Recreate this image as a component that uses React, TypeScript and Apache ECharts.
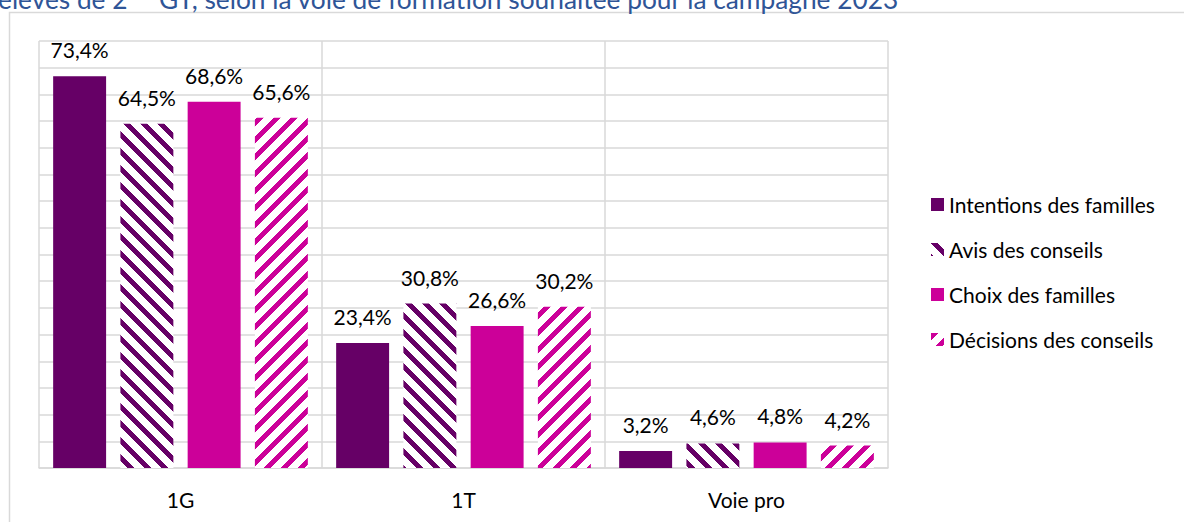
import React, { useEffect, useRef } from "react";
import * as echarts from "echarts";

const categories = ["1G", "1T", "Voie pro"];
const seriesNames = [
  "Intentions des familles",
  "Avis des conseils",
  "Choix des familles",
  "Décisions des conseils",
];
const intentionsFamilles = [73.4, 23.4, 3.2];
const avisConseils = [64.5, 30.8, 4.6];
const choixFamilles = [68.6, 26.6, 4.8];
const decisionsConseils = [65.6, 30.2, 4.2];
const yMin = 0;
const yMax = 80;
const yInterval = 5;

const titleText =
  "élèves de 2{sup|nde} GT, selon la voie de formation souhaitée pour la campagne 2023";

const FONT = "Lato, 'Open Sans', sans-serif";
const DARK = "#660066";
const MAGENTA = "#CC0099";
const GRID = "#d9d9d9";

function makeStripe(color: string, dir: "down" | "up") {
  const size = 17;
  const c = document.createElement("canvas");
  c.width = size;
  c.height = size;
  const ctx = c.getContext("2d")!;
  ctx.fillStyle = "#ffffff";
  ctx.fillRect(0, 0, size, size);
  ctx.fillStyle = color;
  for (let y = 0; y < size; y++) {
    for (let x = 0; x < size; x++) {
      const k = dir === "down" ? x - y : x + y;
      if (((k % size) + size) % size < 7) ctx.fillRect(x, y, 1, 1);
    }
  }
  return {
    image: c.toDataURL(),
    repeat: "repeat",
    imageWidth: size,
    imageHeight: size,
  };
}

export default function App() {
  const ref = useRef<HTMLDivElement>(null);
  useEffect(() => {
    if (!ref.current) return;
    const chart = echarts.init(ref.current, undefined, { renderer: "svg" });
    const fmt = (p: any) => p.value.toFixed(1).replace(".", ",") + "%";
    const label = {
      show: true,
      position: "top",
      distance: 16,
      formatter: fmt,
      fontSize: 21,
      fontFamily: FONT,
      color: "#000",
    };
    const colors: any[] = [
      DARK,
      makeStripe(DARK, "down"),
      MAGENTA,
      makeStripe(MAGENTA, "up"),
    ];
    const datas = [intentionsFamilles, avisConseils, choixFamilles, decisionsConseils];
    chart.setOption({
      animation: false,
      backgroundColor: "#fff",
      graphic: [
        {
          type: "rect",
          silent: true,
          shape: { x: 9.5, y: 12.5, width: 1300, height: 700 },
          style: { fill: "none", stroke: GRID, lineWidth: 1.5 },
          z: -1,
        },
        {
          type: "text",
          x: -2,
          y: 12,
          style: {
            text: titleText,
            fill: "#2F5597",
            fontSize: 26.3,
            fontFamily: FONT,
            verticalAlign: "bottom",
            rich: {
              sup: { fontSize: 15, verticalAlign: "top", fill: "#2F5597", fontFamily: FONT },
            },
          },
        },
      ],
      grid: { left: 39, right: 296, top: 41, bottom: 54 },
      legend: {
        orient: "vertical",
        left: 926,
        top: 189,
        itemWidth: 13,
        itemHeight: 13,
        itemGap: 24,
        icon: "rect",
        data: seriesNames,
        textStyle: { fontSize: 21, fontFamily: FONT, color: "#000" },
      },
      xAxis: {
        type: "category",
        data: categories,
        axisTick: { show: false },
        axisLine: { lineStyle: { color: GRID, width: 1.5 } },
        splitLine: { show: true, lineStyle: { color: GRID, width: 1.5 } },
        axisLabel: { fontSize: 21, fontFamily: FONT, color: "#000", margin: 21 },
      },
      yAxis: {
        type: "value",
        min: yMin,
        max: yMax,
        interval: yInterval,
        axisLabel: { show: false },
        axisLine: { show: false },
        axisTick: { show: false },
        splitLine: { lineStyle: { color: GRID, width: 1.5 } },
      },
      series: seriesNames.map((name, i) => ({
        name,
        type: "bar",
        data: datas[i],
        barGap: "27%",
        barCategoryGap: "10%",
        itemStyle: { color: colors[i] },
        label,
      })),
    });
    return () => chart.dispose();
  }, []);
  return (
    <div
      ref={ref}
      style={{ position: "absolute", left: 0, top: 0, width: 1184, height: 522 }}
    />
  );
}
